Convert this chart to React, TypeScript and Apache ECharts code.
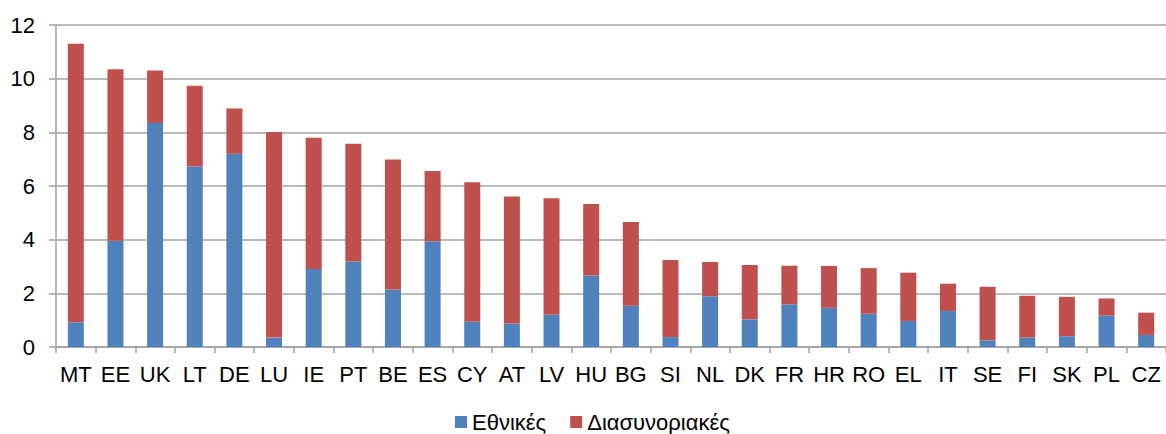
import React, { useEffect, useRef } from "react";
import * as echarts from "echarts";

const categories = [
  "MT", "EE", "UK", "LT", "DE", "LU", "IE", "PT", "BE", "ES", "CY", "AT", "LV", "HU",
  "BG", "SI", "NL", "DK", "FR", "HR", "RO", "EL", "IT", "SE", "FI", "SK", "PL", "CZ",
];

const national = [
  0.92, 3.96, 8.35, 6.73, 7.2, 0.35, 2.91, 3.19, 2.14, 3.94, 0.94, 0.88, 1.2, 2.66,
  1.54, 0.37, 1.89, 1.03, 1.59, 1.46, 1.24, 0.97, 1.34, 0.25, 0.35, 0.4, 1.17, 0.45,
];

const crossBorder = [
  10.38, 6.39, 1.95, 3.01, 1.69, 7.66, 4.89, 4.38, 4.85, 2.62, 5.2, 4.73, 4.34, 2.67,
  3.12, 2.87, 1.28, 2.03, 1.44, 1.56, 1.7, 1.8, 1.02, 2.0, 1.56, 1.47, 0.64, 0.83,
];

const seriesNames = ["Εθνικές", "Διασυνοριακές"];
const yTicks = { min: 0, max: 12, interval: 2 };

export default function App() {
  const ref = useRef<HTMLDivElement>(null);

  useEffect(() => {
    if (!ref.current) return;
    const chart = echarts.init(ref.current, undefined, { renderer: "svg" });
    const font = "'Liberation Sans', Arial, sans-serif";
    chart.setOption({
      animation: false,
      backgroundColor: "#ffffff",
      textStyle: { fontFamily: font },
      grid: { left: 56, top: 25, bottom: 87, right: -6, containLabel: false },
      legend: {
        data: seriesNames,
        left: 455,
        top: 411,
        padding: 0,
        itemWidth: 12,
        itemHeight: 12,
        itemGap: 24,
        icon: "rect",
        textStyle: { fontSize: 22, lineHeight: 22, color: "#000", fontFamily: font },
      },
      xAxis: {
        type: "category",
        data: categories,
        axisLine: { lineStyle: { color: "#a0a0a0", width: 1.5 } },
        axisTick: { show: true, alignWithLabel: false, length: 6, lineStyle: { color: "#a0a0a0", width: 1.5 } },
        axisLabel: { fontSize: 22, color: "#000", margin: 16, interval: 0, fontFamily: font },
      },
      yAxis: {
        type: "value",
        min: yTicks.min,
        max: yTicks.max,
        interval: yTicks.interval,
        axisLine: { show: true, lineStyle: { color: "#a0a0a0", width: 1.5 } },
        axisTick: { show: true, length: 7, lineStyle: { color: "#a0a0a0", width: 1.5 } },
        axisLabel: { fontSize: 22, color: "#000", margin: 21, fontFamily: font },
        splitLine: { show: true, lineStyle: { color: "#a5a5a5", width: 1.5 } },
      },
      series: [
        {
          name: seriesNames[0],
          type: "bar",
          stack: "total",
          data: national,
          barWidth: 16,
          itemStyle: { color: "#4f81bd" },
        },
        {
          name: seriesNames[1],
          type: "bar",
          stack: "total",
          data: crossBorder,
          barWidth: 16,
          itemStyle: { color: "#c0504d" },
        },
      ],
    });
    return () => chart.dispose();
  }, []);

  return (
    <div style={{ position: "absolute", left: 0, top: 0, width: 1166, height: 434, overflow: "hidden", background: "#fff" }}>
      <div ref={ref} style={{ width: 1166, height: 434 }} />
    </div>
  );
}
